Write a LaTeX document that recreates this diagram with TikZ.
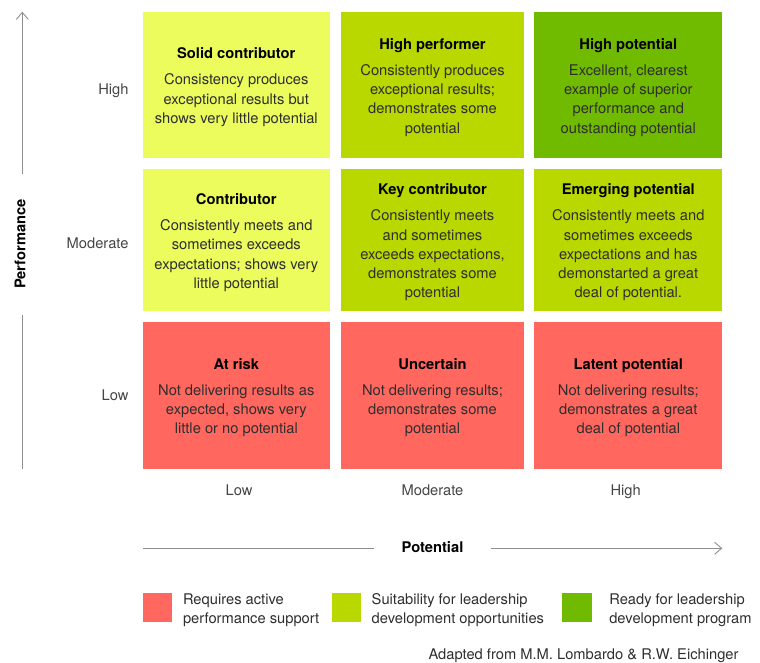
\documentclass[tikz,border=0pt]{standalone}
\usepackage{fontspec}
\setmainfont{TeX Gyre Heros}
\usetikzlibrary{arrows.meta}

\definecolor{cRed}{HTML}{FF675F}
\definecolor{cLight}{HTML}{EBFC5C}
\definecolor{cMid}{HTML}{B8D800}
\definecolor{cDark}{HTML}{70BB00}
\definecolor{axisgray}{HTML}{8E8E8E}
\definecolor{bodytext}{HTML}{2E2E2E}
\definecolor{labeltext}{HTML}{444444}

\newcommand{\celltitle}[1]{{\color{black}\bfseries #1}\\[6.7pt]}
% box node #1 at (#2,#3), size #4 x #5, fill #6, text #7
\newcommand{\gridcell}[7]{%
  \node[cellbox, fill=#6, minimum width=#4pt, minimum height=#5pt] (#1) at (#2,#3) {};
  \node[celltext] (#1-text) at ([yshift=-2.5pt]#1.center) {#7};}

\begin{document}
\begin{tikzpicture}[x=1pt,y=-1pt,
  every node/.style={inner sep=0pt, outer sep=0pt},
  cellbox/.style={rectangle},
  celltext/.style={align=center, text=bodytext,
    font=\fontsize{14.7}{19.3}\selectfont},
  axislabel/.style={text=labeltext, text height=10.5pt, text depth=3pt,
    font=\fontsize{14.7}{17}\selectfont},
  axistitle/.style={text=black, text height=10.5pt, text depth=3pt,
    font=\fontsize{14.7}{17}\selectfont\bfseries},
  axisline/.style={draw=axisgray, line width=0.9pt},
  axisarrow/.style={axisline, -{Straight Barb[length=7pt,width=12pt,line width=0.9pt]}},
  legendbox/.style={rectangle, minimum width=29.6pt, minimum height=29.6pt},
  legendtext/.style={anchor=west, align=left, text=bodytext,
    font=\fontsize{14.7}{19}\selectfont},
]
\useasboundingbox (0,0) rectangle (760,663);

% --- grid cells ---
\gridcell{c11}{236.3}{84.7}{187.3}{146}{cLight}
  {\celltitle{Solid contributor}Consistency produces\\exceptional results but\\shows very little potential}
\gridcell{c12}{432.5}{84.7}{183}{146}{cMid}
  {\celltitle{High performer}Consistently produces\\exceptional results;\\demonstrates some\\potential}
\gridcell{c13}{628.3}{84.7}{188}{146}{cDark}
  {\celltitle{High potential}Excellent, clearest\\example of superior\\performance and\\outstanding potential}

\gridcell{c21}{236.3}{240}{187.3}{141.4}{cLight}
  {\celltitle{Contributor}Consistently meets and\\sometimes exceeds\\expectations; shows very\\little potential}
\gridcell{c22}{432.5}{240}{183}{141.4}{cMid}
  {\celltitle{Key contributor}Consistently meets\\and sometimes\\exceeds expectations,\\demonstrates some\\potential}
\gridcell{c23}{628.3}{240}{188}{141.4}{cMid}
  {\celltitle{Emerging potential}Consistently meets and\\sometimes exceeds\\expectations and has\\demonstarted a great\\deal of potential.}

\gridcell{c31}{236.3}{395.2}{187.3}{147}{cRed}
  {\celltitle{At risk}Not delivering results as\\expected, shows very\\little or no potential}
\gridcell{c32}{432.5}{395.2}{183}{147}{cRed}
  {\celltitle{Uncertain}Not delivering results;\\demonstrates some\\potential}
\gridcell{c33}{628.3}{395.2}{188}{147}{cRed}
  {\celltitle{Latent potential}Not delivering results;\\demonstrates a great\\deal of potential}

% --- performance levels ---
\node[axislabel, anchor=east] (rHigh) at (128.5,91) {High};
\node[axislabel, anchor=east] (rMod) at (128.5,245) {Moderate};
\node[axislabel, anchor=east] (rLow) at (128.5,396.5) {Low};

% --- potential levels ---
\node[axislabel] (kLow) at (239,492) {Low};
\node[axislabel] (kMod) at (432.5,492) {Moderate};
\node[axislabel] (kHigh) at (625.7,492) {High};

% --- vertical axis ---
\node[axistitle, rotate=90] (perf) at (21.7,244) {Performance};
\coordinate (vTop) at (22.3,11.7);
\coordinate (vUpper) at (22.3,174);
\coordinate (vLower) at (22.3,315);
\coordinate (vBottom) at (22.3,468.7);
\draw[axisarrow] (vUpper) -- (vTop);
\draw[axisline] (vLower) -- (vBottom);

% --- horizontal axis ---
\node[axistitle] (pot) at (432.5,549) {Potential};
\coordinate (hLeft) at (142.7,548.3);
\coordinate (hMidL) at (374,548.3);
\coordinate (hMidR) at (491,548.3);
\coordinate (hRight) at (722.3,548.3);
\draw[axisline] (hLeft) -- (hMidL);
\draw[axisarrow] (hMidR) -- (hRight);

% --- legend ---
\node[legendbox, fill=cRed] (lg1) at (157.5,607.5) {};
\node[legendtext] (lt1) at (183,610) {Requires active\\performance support};
\node[legendbox, fill=cMid] (lg2) at (346.3,607.5) {};
\node[legendtext] (lt2) at (371.7,610) {Suitability for leadership\\development opportunities};
\node[legendbox, fill=cDark] (lg3) at (577,607.5) {};
\node[legendtext] (lt3) at (609.3,610) {Ready for leadership\\development program};

% --- source ---
\node[text=bodytext, font=\fontsize{14.7}{17}\selectfont, anchor=east] (src) at (738.5,656)
  {Adapted from M.M. Lombardo \& R.W. Eichinger};
\end{tikzpicture}
\end{document}
